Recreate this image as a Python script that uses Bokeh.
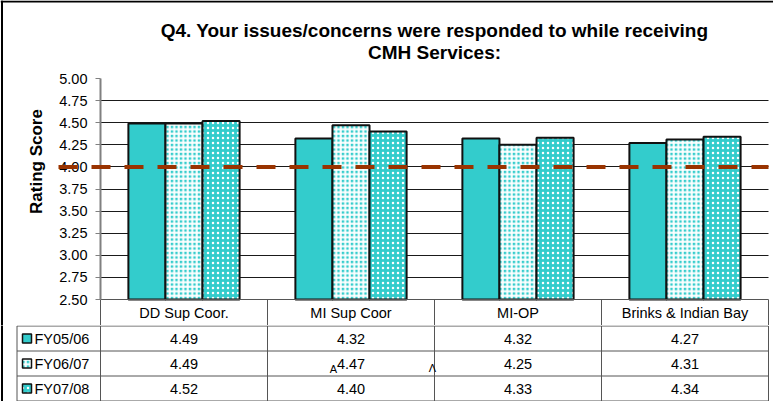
import math
from bokeh.plotting import figure
from bokeh.models import (Range1d, FixedTicker, NumeralTickFormatter, Label, Arrow,
                          ColumnDataSource, BoxAnnotation)
from bokeh.layouts import column
from bokeh.embed import file_html
from bokeh.resources import INLINE
from bokeh.core.properties import value

# ---------------- data ----------------
CATEGORIES = ["DD Sup Coor.", "MI Sup Coor", "MI-OP", "Brinks & Indian Bay"]
SERIES = ["FY05/06", "FY06/07", "FY07/08"]
FY05_06 = [4.49, 4.32, 4.32, 4.27]
FY06_07 = [4.49, 4.47, 4.25, 4.31]
FY07_08 = [4.52, 4.40, 4.33, 4.34]
TARGET = 4.00
Y_TICKS = [2.50, 2.75, 3.00, 3.25, 3.50, 3.75, 4.00, 4.25, 4.50, 4.75, 5.00]
TITLE_LINES = ["Q4. Your issues/concerns were responded to while receiving", "CMH Services:"]
Y_LABEL = "Rating Score"
STRAY_MARKS = ["A", "\u039b"]

# ---------------- layout (pixels) ----------------
W = 773
PLOT_TOP = 78          # pixel row of 5.00
PLOT_BOTTOM = 299      # pixel row of 2.50
HEADER_H = 26          # table header row (inside chart figure)
ROW_H = 25             # table data rows
CHART_H = PLOT_BOTTOM + HEADER_H
TABLE_H = 401 - CHART_H
LEFT = 100             # pixel column of the value axis
RIGHT = 5
N = len(CATEGORIES)
PX = (W - LEFT - RIGHT) / N
PY = (PLOT_BOTTOM - PLOT_TOP) / (Y_TICKS[-1] - Y_TICKS[0])
BAR_W = 0.222
FONT = "Liberation Sans"
TEAL = "#33CCCC"
LINE = "#555555"
TXT = "14.5px"

series_vals = [FY05_06, FY06_07, FY07_08]
fills = [
    dict(fill_color=TEAL),
    dict(fill_color=TEAL, hatch_pattern="cross", hatch_color="white", hatch_scale=4.5, hatch_weight=2),
    dict(fill_color=TEAL, hatch_pattern="dot", hatch_color="white", hatch_scale=5, hatch_weight=1.5),
]
offsets = [-BAR_W, 0.0, BAR_W]

x_min = -LEFT / PX
x_max = (W - LEFT) / PX
y_top = Y_TICKS[-1] + PLOT_TOP / PY
y_bot = Y_TICKS[0] - HEADER_H / PY

def px_x(px):
    return (px - LEFT) / PX

def px_y(py):
    return Y_TICKS[-1] - (py - PLOT_TOP) / PY

# ---------------- chart ----------------
p = figure(width=W, height=CHART_H, x_range=Range1d(x_min, x_max), y_range=Range1d(y_bot, y_top),
           x_axis_location=None, output_backend="svg", toolbar_location=None,
           min_border=0, min_border_left=0, min_border_right=0, min_border_top=0, min_border_bottom=0)
p.outline_line_color = None
p.background_fill_color = "white"
p.border_fill_color = "white"

p.ygrid.ticker = FixedTicker(ticks=Y_TICKS[1:-1])
p.ygrid.grid_line_color = "#1a1a1a"
p.ygrid.grid_line_width = 1
p.xgrid.visible = False
for g in p.ygrid:
    if "cross_bounds" in g.properties():
        g.cross_bounds = (0, N)
# keep the gridlines out of the label area and the right margin
p.add_layout(BoxAnnotation(left=x_min, right=0, bottom=y_bot, top=y_top, level="underlay",
                           fill_color="white", fill_alpha=1, line_color=None))
p.add_layout(BoxAnnotation(left=N + 1.5 / PX, right=x_max, bottom=y_bot, top=px_y(3), level="overlay",
                           fill_color="white", fill_alpha=1, line_color=None))

for vals, off, st in zip(series_vals, offsets, fills):
    src = ColumnDataSource(dict(x=[i + 0.5 + off for i in range(N)], top=vals))
    p.vbar(x="x", top="top", bottom=Y_TICKS[0], width=BAR_W, source=src,
           line_color="#111111", line_width=2, **st)

ax = p.yaxis[0]
ax.fixed_location = 0
ax.bounds = (Y_TICKS[0], Y_TICKS[-1])
ax.ticker = FixedTicker(ticks=Y_TICKS)
ax.formatter = NumeralTickFormatter(format="0.00")
ax.major_label_text_font = FONT
ax.major_label_text_font_size = TXT
ax.major_label_text_color = "black"
ax.major_label_standoff = 8
ax.axis_line_color = "#808080"
ax.axis_line_width = 2
ax.major_tick_line_color = "#808080"
ax.major_tick_out = 5
ax.major_tick_in = 0
ax.minor_tick_out = 0
ax.minor_tick_in = 0

p.add_layout(Label(x=px_x(36), y=px_y(161), text=Y_LABEL, angle=math.pi / 2, text_align="center",
                   text_baseline="middle", text_font=FONT, text_font_style="bold",
                   text_font_size="17px", text_color="black"))

p.add_layout(Arrow(end=None, x_start=px_x(58), y_start=TARGET, x_end=N, y_end=TARGET,
                   line_color="#993300", line_width=4, line_dash="19 14"))

for txt, cy in zip(TITLE_LINES, [30, 52]):
    p.add_layout(Label(x=N / 2, y=px_y(cy), text=txt, text_align="center",
                       text_baseline="middle", text_font=FONT, text_font_style="bold",
                       text_font_size="19px", text_color="black"))

# outer chart border (top and left)
p.segment(x0=[x_min, px_x(1.5)], y0=[px_y(1), y_bot], x1=[x_max, px_x(1.5)], y1=[px_y(1), y_top],
          line_color="black", line_width=2)

# table header row (category names) under the bars
p.segment(x0=[0], y0=[Y_TICKS[0]], x1=[N], y1=[Y_TICKS[0]], line_color=LINE, line_width=1)
p.segment(x0=list(range(N + 1)), y0=[y_bot] * (N + 1), x1=list(range(N + 1)),
          y1=[Y_TICKS[0]] * (N + 1), line_color=LINE, line_width=1)
p.text(x=[i + 0.5 for i in range(N)], y=[Y_TICKS[0] - HEADER_H / 2 / PY] * N, text=CATEGORIES,
       text_align="center", text_baseline="middle", text_font=value(FONT),
       text_font_size=TXT, text_color="black")

# ---------------- data table rows ----------------
nrows = len(SERIES)
t = figure(width=W, height=TABLE_H, x_range=Range1d(x_min, x_max),
           y_range=Range1d(-0.5 / ROW_H, nrows + 0.5 / ROW_H), x_axis_location=None,
           y_axis_location=None, output_backend="svg", toolbar_location=None,
           min_border=0, min_border_left=0, min_border_right=0, min_border_top=0, min_border_bottom=0)
t.outline_line_color = None
t.grid.visible = False
t.background_fill_color = "white"
t.border_fill_color = "white"
for fig in (p, t):
    if "frame_align" in fig.properties():
        fig.frame_align = False

vx = [-0.5] + list(range(N + 1))
t.segment(x0=vx, y0=[0] * len(vx), x1=vx, y1=[nrows] * len(vx), line_color=LINE, line_width=1)
hy = list(range(nrows + 1))
t.segment(x0=[-0.5] * len(hy), y0=hy, x1=[N] * len(hy), y1=hy, line_color=LINE, line_width=1)
t.segment(x0=[px_x(1.5)], y0=[-1], x1=[px_x(1.5)], y1=[nrows + 1], line_color="black", line_width=2)

for j, (name, vals, st) in enumerate(zip(SERIES, series_vals, fills)):
    ry = nrows - j - 0.5
    t.text(x=[i + 0.5 for i in range(N)], y=[ry] * N, text=[f"{v:.2f}" for v in vals],
           text_align="center", text_baseline="middle", text_font=value(FONT),
           text_font_size=TXT, text_color="black")
    t.text(x=[px_x(34)], y=[ry], text=[name], text_align="left", text_baseline="middle",
           text_font=value(FONT), text_font_size=TXT, text_color="black")
    t.scatter(x=[px_x(26.5)], y=[ry], marker="square", size=9,
              line_color="#111111", line_width=1.5, **st)

t.text(x=[px_x(333), px_x(432)], y=[1.28, 1.32], text=STRAY_MARKS,
       text_align="center", text_baseline="middle", text_font=value(FONT),
       text_font_size="11px", text_color="black")

layout = column(p, t, spacing=0)
open("out.html", "w").write(file_html(layout, INLINE))
